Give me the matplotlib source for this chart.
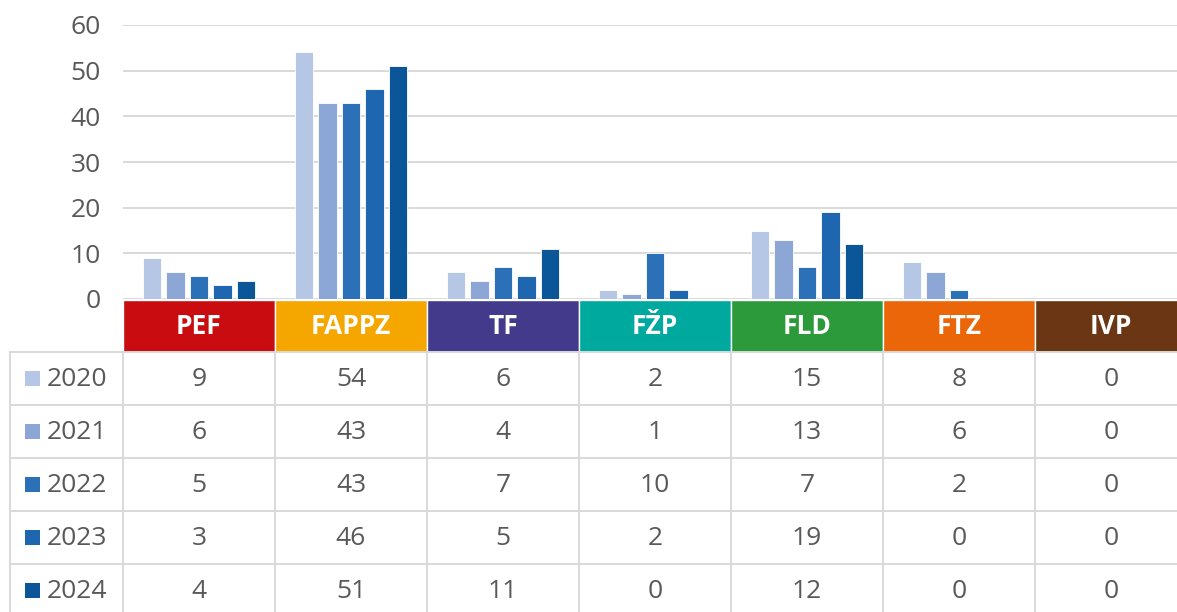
import matplotlib.pyplot as plt
from matplotlib.patches import Rectangle
import numpy as np

plt.rcParams['font.family'] = ['Open Sans', 'Noto Sans', 'DejaVu Sans']

faculties = ['PEF', 'FAPPZ', 'TF', 'FŽP', 'FLD', 'FTZ', 'IVP']
faculty_colors = ['#C90C0F', '#F5A700', '#433A8C', '#00A99D', '#2C9A3A', '#EA6608', '#6B3614']
years = ['2020', '2021', '2022', '2023', '2024']
year_colors = ['#B6C7E6', '#8CA6D6', '#2C70B8', '#1E66B0', '#0B5599']

v2020 = [9, 54, 6, 2, 15, 8, 0]
v2021 = [6, 43, 4, 1, 13, 6, 0]
v2022 = [5, 43, 7, 10, 7, 2, 0]
v2023 = [3, 46, 5, 2, 19, 0, 0]
v2024 = [4, 51, 11, 0, 12, 0, 0]
series = [v2020, v2021, v2022, v2023, v2024]

W, H = 1177, 612
text_gray = '#595959'
grid_gray = '#D9D9D9'
fs = 19

fig = plt.figure(figsize=(W / 100, H / 100), dpi=100)

# geometry in pixels (measured from top-left)
col0 = 123          # left edge of first faculty column
colw = 152          # width of each faculty column
plot_top, plot_bot = 25, 299
right = col0 + colw * len(faculties)

ax = fig.add_axes([col0 / W, 1 - plot_bot / H, (right - col0) / W, (plot_bot - plot_top) / H])
x = np.arange(len(faculties))
slot = 23.4 / colw
bw = 18.5 / colw
for i, (vals, c) in enumerate(zip(series, year_colors)):
    ax.bar(x + (i - 2) * slot, vals, width=bw, color=c, edgecolor='white',
           linewidth=0.6, zorder=3)

ax.set_xlim(-0.5, len(faculties) - 0.5)
ax.set_ylim(0, 60)
ax.set_yticks(range(0, 61, 10))
ax.yaxis.grid(True, color=grid_gray, linewidth=1.4, zorder=0)
ax.tick_params(axis='y', length=0, pad=16, labelsize=fs, labelcolor=text_gray)
ax.set_xticks([])
for s in ax.spines.values():
    s.set_visible(False)
ax.set_facecolor('none')

# data table under the chart
tab_top, tab_bot = 300, 617
tax = fig.add_axes([0, 1 - tab_bot / H, right / W, (tab_bot - tab_top) / H])
tax.set_xlim(0, right)
tax.set_ylim(tab_bot, tab_top)
tax.axis('off')

head_h = 52
row_h = 53
rows_top = tab_top + head_h
left_edge = 10

for j, (name, c) in enumerate(zip(faculties, faculty_colors)):
    x0 = col0 + j * colw
    tax.add_patch(Rectangle((x0, tab_top), colw, head_h, facecolor=c,
                            edgecolor='white', linewidth=1))
    tax.text(x0 + colw / 2, tab_top + head_h / 2 + 1, name, ha='center', va='center',
             color='white', fontsize=fs, fontweight='bold')

# grid lines of the table
for r in range(len(years)):
    y = rows_top + r * row_h
    tax.plot([left_edge, right], [y, y], color=grid_gray, lw=1.4)
for xv in [left_edge] + [col0 + j * colw for j in range(len(faculties) + 1)]:
    tax.plot([xv, xv], [rows_top, tab_bot], color=grid_gray, lw=1.4)

for r, (yr, c, vals) in enumerate(zip(years, year_colors, series)):
    yc = rows_top + r * row_h + row_h / 2
    tax.add_patch(Rectangle((25, yc - 7.5), 15, 15, facecolor=c, edgecolor='none'))
    tax.text(47, yc + 1, yr, ha='left', va='center', color=text_gray, fontsize=fs)
    for j, v in enumerate(vals):
        tax.text(col0 + j * colw + colw / 2, yc + 1, str(v), ha='center', va='center',
                 color=text_gray, fontsize=fs)

fig.savefig('out.png', dpi=100)
